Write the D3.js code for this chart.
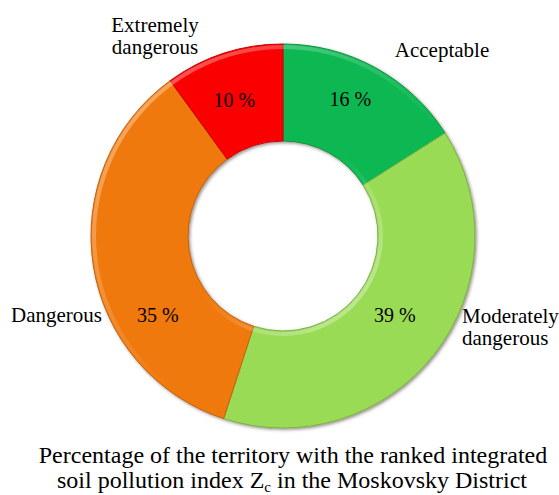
<!DOCTYPE html>
<html>
<head>
<meta charset="utf-8">
<script src="https://cdn.jsdelivr.net/npm/d3@7"></script>
</head>
<body style="margin:0">
<script>
// data
const categories = ["Acceptable", "Moderately dangerous", "Dangerous", "Extremely dangerous"];
const shares = [16, 39, 35, 10];
const colours = ["#0bb853", "#9adb56", "#f0790f", "#fa0303"];
const titleLines = ["Percentage of the territory with the ranked integrated",
                    "soil pollution index Z", "c", " in the Moskovsky District"];

const width = 559, height = 495;
const cx = 283, cy = 236, outerR = 192, innerR = 95;
const serif = "'Liberation Serif'";

const svg = d3.select("body")
  .append("svg")
    .attr("width", width)
    .attr("height", height);

// soft shadow + light edges, like the excel bevel
const defs = svg.append("defs");
defs.append("filter").attr("id", "shadow")
    .attr("x", "-10%").attr("y", "-10%").attr("width", "120%").attr("height", "120%")
  .append("feDropShadow")
    .attr("dx", 1.5).attr("dy", 1.5).attr("stdDeviation", 1.6)
    .attr("flood-color", "#4a3a30").attr("flood-opacity", 0.55);

function edgeGradient(id, from, to) {
  const lg = defs.append("linearGradient").attr("id", id)
    .attr("x1", from[0]).attr("y1", from[1]).attr("x2", to[0]).attr("y2", to[1]);
  lg.append("stop").attr("offset", "0%").attr("stop-color", "#fff").attr("stop-opacity", 0.45);
  lg.append("stop").attr("offset", "55%").attr("stop-color", "#fff").attr("stop-opacity", 0);
}
edgeGradient("hiOuter", ["0%", "0%"], ["100%", "100%"]);
edgeGradient("hiInner", ["100%", "100%"], ["0%", "0%"]);

const pie = d3.pie().sort(null).value(d => d.value);
const arc = d3.arc().innerRadius(innerR).outerRadius(outerR);
const labelArc = d3.arc().innerRadius(148).outerRadius(148);

const data = pie(categories.map((c, i) => ({name: c, value: shares[i], colour: colours[i]})));

const g = svg.append("g").attr("transform", `translate(${cx},${cy})`);
const ring = g.append("g").attr("filter", "url(#shadow)");

ring.selectAll("path.slice")
  .data(data)
  .join("path")
    .attr("class", "slice")
    .attr("d", arc)
    .attr("fill", d => d.data.colour)
    .attr("stroke", d => d3.color(d.data.colour).darker(0.6))
    .attr("stroke-width", 1);

// highlight bands along the outer and inner rims
g.append("path")
  .attr("d", d3.arc().innerRadius(outerR - 5).outerRadius(outerR - 1)({startAngle: 0, endAngle: 2 * Math.PI}))
  .attr("fill", "url(#hiOuter)");
g.append("path")
  .attr("d", d3.arc().innerRadius(innerR + 1).outerRadius(innerR + 5)({startAngle: 0, endAngle: 2 * Math.PI}))
  .attr("fill", "url(#hiInner)");

// percent labels, nudged a little to where excel put them
const nudge = [[-4, -7], [-5, -12], [21, 56], [-3, 5]];
g.selectAll("text.pct")
  .data(data)
  .join("text")
    .attr("class", "pct")
    .attr("text-anchor", "middle")
    .attr("font-size", 20)
    .style("font-family", serif)
    .attr("x", (d, i) => labelArc.centroid(d)[0] + nudge[i][0])
    .attr("y", (d, i) => labelArc.centroid(d)[1] + nudge[i][1] + 7)
    .text(d => d.data.value + " %");

// category labels outside the ring
const outside = [
  {lines: ["Acceptable"], x: 442, y: 57, anchor: "middle"},
  {lines: ["Moderately", "dangerous"], x: 462, y: 323, anchor: "start"},
  {lines: ["Dangerous"], x: 102, y: 322, anchor: "end"},
  {lines: ["Extremely", "dangerous"], x: 155, y: 32, anchor: "middle"}
];
outside.forEach(o => {
  o.lines.forEach((l, j) => {
    svg.append("text")
      .attr("text-anchor", o.anchor)
      .attr("font-size", 21)
      .style("font-family", serif)
      .attr("x", o.x).attr("y", o.y + j * 22)
      .text(l);
  });
});

// caption under the chart
svg.append("text")
  .attr("text-anchor", "middle").attr("font-size", 24)
  .style("font-family", serif)
  .attr("x", 293).attr("y", 463)
  .text(titleLines[0]);
const l2 = svg.append("text")
  .attr("text-anchor", "middle").attr("font-size", 24)
  .style("font-family", serif)
  .attr("x", 292).attr("y", 488);
l2.append("tspan").text(titleLines[1]);
l2.append("tspan").attr("font-size", 15).attr("dy", 4).text(titleLines[2]);
l2.append("tspan").attr("dy", -4).text(titleLines[3]);
</script>
</body>
</html>
